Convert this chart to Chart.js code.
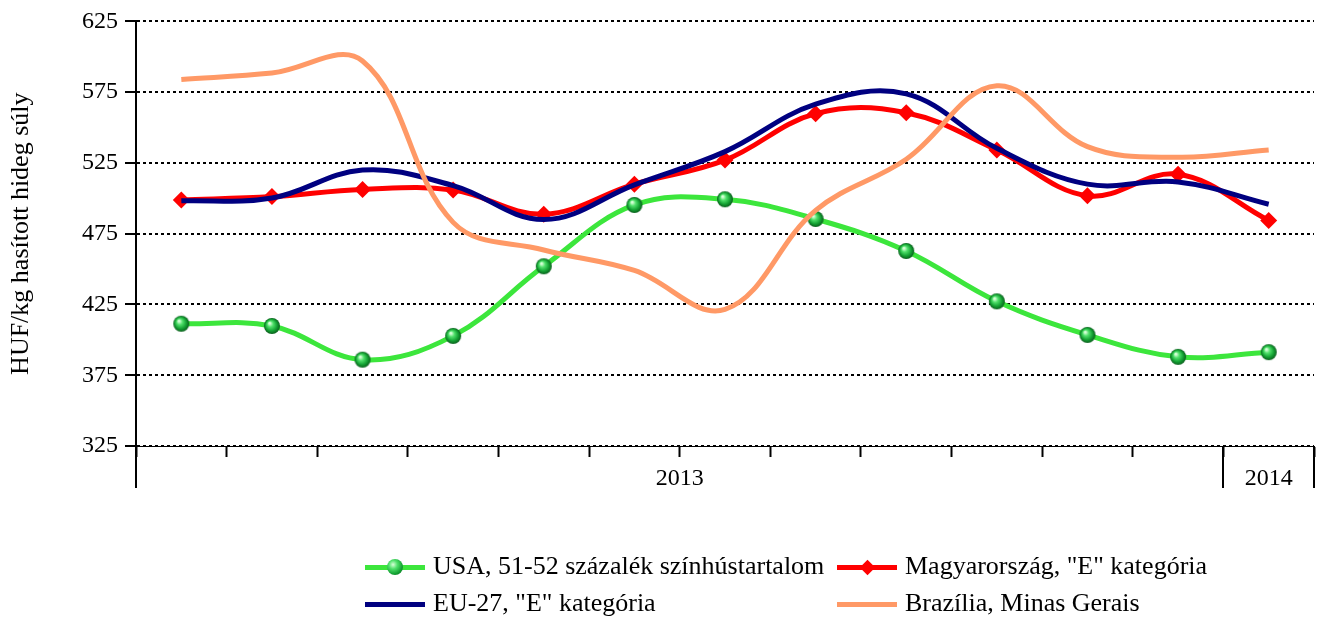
<!DOCTYPE html>
<html>
<head>
<meta charset="utf-8">
<script src="https://cdn.jsdelivr.net/npm/chart.js@4.4.1/dist/chart.umd.min.js"></script>
<style>
  html, body { margin: 0; padding: 0; background: #fff; }
  #wrap { position: relative; width: 1327px; height: 619px; }
  #c { position: absolute; left: 0; top: 0; }
  .lg { position: absolute; font-family: 'Liberation Serif', 'Times New Roman', serif; font-size: 26px; color: #000; white-space: nowrap; line-height: 26px; }
  .ln { position: absolute; height: 5px; width: 60px; }
  .sph { position: absolute; width: 16px; height: 16px; border-radius: 50%;
         background: radial-gradient(circle at 38% 35%, #d8ffd8 0%, #4fe06a 30%, #13a032 65%, #0a5e1c 100%); }
  .dia { position: absolute; width: 11px; height: 11px; background: #ff0000; transform: rotate(45deg); }
</style>
</head>
<body>
<div id="wrap">
  <canvas id="c" width="1327" height="619"></canvas>
  <div id="legend"></div>
</div>
<script>
// ---- data ----
const categories = ['2013-01','2013-02','2013-03','2013-04','2013-05','2013-06','2013-07','2013-08','2013-09','2013-10','2013-11','2013-12','2014-01'];
const yearLabels = ['2013', '2014'];
const yearSpans = [12, 1];
const usaValues = [411.4, 409.8, 386.0, 402.8, 452.0, 495.3, 499.3, 485.4, 462.8, 427.2, 403.5, 388.0, 391.3];
const huValues = [498.8, 501.2, 506.3, 505.8, 488.8, 510.0, 527.0, 559.8, 560.5, 534.2, 501.8, 517.0, 484.4];
const euValues = [498.2, 500.2, 520.0, 509.0, 485.0, 509.5, 533.0, 566.5, 573.8, 535.3, 510.0, 511.6, 495.8];
const brValues = [584.0, 588.5, 597.0, 483.0, 463.5, 449.0, 421.5, 491.5, 527.6, 579.5, 536.5, 529.0, 534.2];
const seriesNames = ['USA, 51-52 százalék színhústartalom', 'Magyarország, "E" kategória', 'EU-27, "E" kategória', 'Brazília, Minas Gerais'];
const yTitle = 'HUF/kg hasított hideg súly';
const yMin = 325, yMax = 625, yStep = 50;

const FONT = "'Liberation Serif', 'Times New Roman', serif";
const GREEN = '#3ce63c', RED = '#ff0000', NAVY = '#000080', ORANGE = '#ff9966';

// green sphere marker
function makeSphere(r) {
  const c = document.createElement('canvas');
  const s = Math.ceil(r * 2) + 2;
  c.width = s; c.height = s;
  const g = c.getContext('2d');
  const cx = s / 2, cy = s / 2;
  const grad = g.createRadialGradient(cx - r * 0.3, cy - r * 0.35, r * 0.1, cx, cy, r);
  grad.addColorStop(0, '#d8ffd8');
  grad.addColorStop(0.3, '#4fe06a');
  grad.addColorStop(0.7, '#13a032');
  grad.addColorStop(1, '#0a5e1c');
  g.fillStyle = grad;
  g.beginPath(); g.arc(cx, cy, r, 0, Math.PI * 2); g.fill();
  return c;
}
const sphere = makeSphere(8);

const axisDeco = {
  id: 'axisDeco',
  afterDraw(chart) {
    const ctx = chart.ctx;
    const xs = chart.scales.x;
    const a = chart.chartArea;
    const step = xs.getPixelForValue(1) - xs.getPixelForValue(0);
    const bounds = [];
    let idx = 0;
    bounds.push(xs.getPixelForValue(0) - step / 2);
    yearSpans.forEach(n => { idx += n; bounds.push(xs.getPixelForValue(idx - 1) + step / 2); });
    ctx.save();
    ctx.strokeStyle = '#000';
    ctx.lineWidth = 2;
    bounds.forEach(bx => {
      ctx.beginPath();
      ctx.moveTo(Math.round(bx), a.bottom);
      ctx.lineTo(Math.round(bx), a.bottom + 42);
      ctx.stroke();
    });
    ctx.fillStyle = '#000';
    ctx.font = '24px ' + FONT;
    ctx.textAlign = 'center';
    ctx.textBaseline = 'middle';
    yearLabels.forEach((t, i) => {
      ctx.fillText(t, (bounds[i] + bounds[i + 1]) / 2, a.bottom + 33);
    });
    ctx.restore();
  }
};

const chart = new Chart(document.getElementById('c'), {
  type: 'line',
  data: {
    labels: categories,
    datasets: [
      { label: seriesNames[3], data: brValues, borderColor: ORANGE, borderWidth: 5, pointRadius: 0, tension: 0.38, order: 0 },
      { label: seriesNames[2], data: euValues, borderColor: NAVY, borderWidth: 5, pointRadius: 0, tension: 0.38, order: 1 },
      { label: seriesNames[1], data: huValues, borderColor: RED, backgroundColor: RED, borderWidth: 5, pointStyle: 'rectRot', pointRadius: 8.5, pointBorderWidth: 0, tension: 0.38, order: 2 },
      { label: seriesNames[0], data: usaValues, borderColor: GREEN, backgroundColor: GREEN, borderWidth: 5, pointStyle: sphere, pointRadius: 8, tension: 0.38, order: 3 }
    ]
  },
  options: {
    responsive: false,
    animation: false,
    devicePixelRatio: 1,
    layout: { padding: { left: 0, right: 7, top: 20, bottom: 0 } },
    plugins: { legend: { display: false }, tooltip: { enabled: false } },
    scales: {
      x: {
        type: 'category',
        offset: true,
        afterFit(s) { s.height = 173; },
        border: { display: true, color: '#000', width: 1 },
        grid: { offset: true, drawOnChartArea: false, drawTicks: true, tickLength: 11, tickColor: '#000', tickWidth: 2, color: '#000' },
        ticks: { display: false }
      },
      y: {
        min: yMin, max: yMax,
        afterFit(s) { s.width = 136; },
        border: { display: true, color: '#000', width: 2, dash: [3, 3] },
        grid: { color: '#000', lineWidth: 2, drawTicks: true, tickLength: 11, tickColor: '#000', tickWidth: 2, tickBorderDash: [] },
        ticks: { stepSize: yStep, color: '#000', padding: 7, font: { family: FONT, size: 24 } },
        title: { display: true, text: yTitle, color: '#000', font: { family: FONT, size: 26 }, padding: { top: 6, bottom: 0 } }
      }
    }
  },
  plugins: [axisDeco]
});

// ---- legend (HTML) ----
const legend = document.getElementById('legend');
const legendItems = [
  { name: seriesNames[0], color: GREEN, marker: 'sph', x: 365, y: 567 },
  { name: seriesNames[1], color: RED, marker: 'dia', x: 837, y: 567 },
  { name: seriesNames[2], color: NAVY, marker: null, x: 365, y: 604 },
  { name: seriesNames[3], color: ORANGE, marker: null, x: 837, y: 604 }
];
legendItems.forEach(it => {
  const ln = document.createElement('div');
  ln.className = 'ln';
  ln.style.left = it.x + 'px';
  ln.style.top = (it.y - 2.5) + 'px';
  ln.style.background = it.color;
  legend.appendChild(ln);
  if (it.marker === 'sph') {
    const m = document.createElement('div');
    m.className = 'sph';
    m.style.left = (it.x + 30 - 8) + 'px';
    m.style.top = (it.y - 8) + 'px';
    legend.appendChild(m);
  } else if (it.marker === 'dia') {
    const m = document.createElement('div');
    m.className = 'dia';
    m.style.left = (it.x + 30 - 5.5) + 'px';
    m.style.top = (it.y - 5.5) + 'px';
    legend.appendChild(m);
  }
  const t = document.createElement('div');
  t.className = 'lg';
  t.textContent = it.name;
  t.style.left = (it.x + 68) + 'px';
  t.style.top = (it.y - 14) + 'px';
  legend.appendChild(t);
});
</script>
</body>
</html>
